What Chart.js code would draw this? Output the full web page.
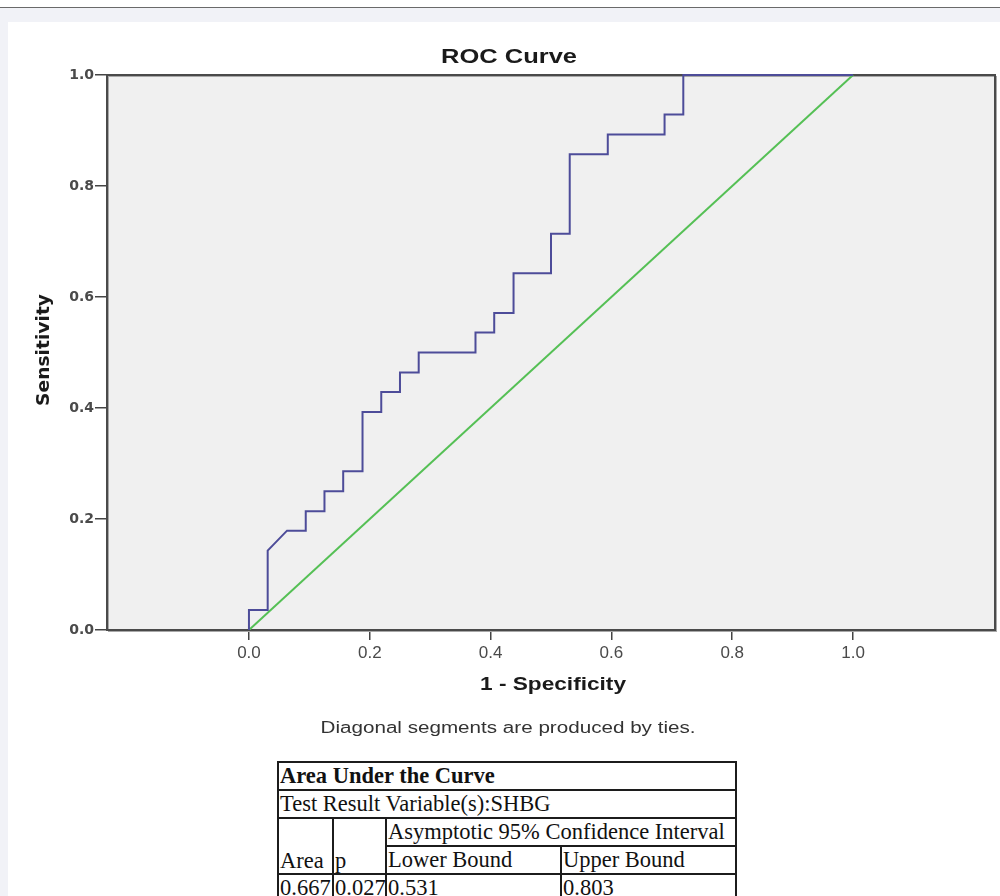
<!DOCTYPE html>
<html>
<head>
<meta charset="utf-8">
<script src="https://cdn.jsdelivr.net/npm/chart.js@4.4.1/dist/chart.umd.min.js"></script>
<style>
  html, body { margin: 0; padding: 0; width: 1000px; height: 896px; overflow: hidden; background: #f1f2f7; }
  .topwhite { position: absolute; left: 0; top: 0; width: 1000px; height: 7px; background: #fff; }
  .topline { position: absolute; left: 0; top: 7px; width: 1000px; height: 1px; background: #6a6a6a; }
  .panel { position: absolute; left: 8px; top: 22px; width: 992px; height: 874px; background: #fff; }
  #roc { position: absolute; left: 8px; top: 22px; }
  table { position: absolute; left: 277px; top: 761px; width: 458px; table-layout: fixed;
          border-collapse: collapse; font-family: 'Liberation Serif', 'Times New Roman', serif;
          font-size: 22.5px; color: #111; }
  td { border: 2px solid #1c1c1c; padding: 0 1px; height: 26px; line-height: 26px; white-space: nowrap; overflow: hidden; }
  td.bot { vertical-align: bottom; line-height: 24px; }
</style>
</head>
<body>
<div class="topwhite"></div>
<div class="topline"></div>
<div class="panel"></div>
<canvas id="roc" width="992" height="730"></canvas>
<table id="auc">
  <colgroup><col style="width:55px"><col style="width:53px"><col style="width:175px"><col style="width:175px"></colgroup>
</table>
<script>
// ROC curve vertices (1 - specificity, sensitivity)
const fpr = [0, 0, 0.031, 0.031, 0.063, 0.094, 0.094, 0.125, 0.125, 0.156, 0.156, 0.188, 0.188,
             0.219, 0.219, 0.25, 0.25, 0.281, 0.281, 0.375, 0.375, 0.406, 0.406, 0.438, 0.438,
             0.5, 0.5, 0.531, 0.531, 0.594, 0.594, 0.688, 0.688, 0.719, 0.719, 1];
const tpr = [0, 0.036, 0.036, 0.143, 0.179, 0.179, 0.214, 0.214, 0.25, 0.25, 0.286, 0.286, 0.393,
             0.393, 0.429, 0.429, 0.464, 0.464, 0.5, 0.5, 0.536, 0.536, 0.571, 0.571, 0.643,
             0.643, 0.714, 0.714, 0.857, 0.857, 0.893, 0.893, 0.929, 0.929, 1, 1];
const refX = [0, 1];
const refY = [0, 1];
const xTicks = [0, 0.2, 0.4, 0.6, 0.8, 1.0];
const yTicks = [0, 0.2, 0.4, 0.6, 0.8, 1.0];

const aucTitle = 'Area Under the Curve';
const aucVariable = 'Test Result Variable(s):SHBG';
const aucHeaders = ['Area', 'p', 'Asymptotic 95% Confidence Interval', 'Lower Bound', 'Upper Bound'];
const aucValues = ['0.667', '0.027', '0.531', '0.803'];

// text that is stretched to the width it has in the picture
function fitText(ctx, text, cx, cy, font, w, rot) {
    ctx.save();
    ctx.font = font;
    ctx.translate(cx, cy);
    if (rot) ctx.rotate(rot);
    const m = ctx.measureText(text).width;
    ctx.scale(w / m, 1);
    ctx.textAlign = 'center';
    ctx.textBaseline = 'middle';
    ctx.fillText(text, 0, 0);
    ctx.restore();
}

const frame = {
    id: 'frame',
    beforeDraw: (chart) => {
        const { ctx, chartArea: a } = chart;
        ctx.save();
        ctx.fillStyle = '#f0f0f0';
        ctx.fillRect(a.left, a.top, a.right - a.left, a.bottom - a.top);
        ctx.restore();
    },
    beforeDatasetsDraw: (chart) => {
        const { ctx, chartArea: a } = chart;
        ctx.save();
        ctx.strokeStyle = '#a8a8a8';
        ctx.lineWidth = 1;
        ctx.strokeRect(a.left + 1.5, a.top + 1.5, a.right - a.left, a.bottom - a.top);
        ctx.strokeStyle = '#4a4a4a';
        ctx.lineWidth = 2;
        ctx.strokeRect(a.left, a.top, a.right - a.left, a.bottom - a.top);
        ctx.restore();
    },
    afterDraw: (chart) => {
        const { ctx } = chart;
        ctx.save();
        ctx.fillStyle = '#1a1a1a';
        fitText(ctx, 'ROC Curve', 501, 35, 'bold 20px "Liberation Sans"', 136);
        fitText(ctx, '1 - Specificity', 545, 663, 'bold 19px "Liberation Sans"', 146);
        fitText(ctx, 'Sensitivity', 37, 328, 'bold 17px "DejaVu Sans"', 112, -Math.PI / 2);
        ctx.fillStyle = '#333';
        fitText(ctx, 'Diagonal segments are produced by ties.', 500, 707, '16px "Liberation Sans"', 375);
        ctx.restore();
    }
};

new Chart(document.getElementById('roc').getContext('2d'), {
    type: 'line',
    data: {
        datasets: [
            {
                data: fpr.map((x, i) => ({ x: x, y: tpr[i] })),
                borderColor: '#4d4c99',
                borderWidth: 2,
                pointRadius: 0,
                tension: 0,
                borderJoinStyle: 'miter',
                clip: 3
            },
            {
                data: refX.map((x, i) => ({ x: x, y: refY[i] })),
                borderColor: '#55c055',
                borderWidth: 2,
                pointRadius: 0,
                tension: 0
            }
        ]
    },
    options: {
        responsive: false,
        animation: false,
        layout: { padding: { top: 53, right: 5, left: 0, bottom: 0 } },
        plugins: { legend: { display: false }, tooltip: { enabled: false }, title: { display: false } },
        scales: {
            x: {
                type: 'linear', min: -0.235, max: 1.235,
                afterBuildTicks: s => { s.ticks = xTicks.map(v => ({ value: v })); },
                afterFit: s => { s.height = 122; },
                ticks: { callback: v => v.toFixed(1), color: '#4a4a4a', font: { family: 'Liberation Sans', size: 17 },
                         padding: 3, maxRotation: 0, autoSkip: false },
                grid: { drawOnChartArea: false, drawTicks: true, tickLength: 10, color: '#444', lineWidth: 1.5 },
                border: { display: false }
            },
            y: {
                type: 'linear', min: 0, max: 1,
                afterBuildTicks: s => { s.ticks = yTicks.map(v => ({ value: v })); },
                afterFit: s => { s.width = 99; },
                ticks: { callback: v => v.toFixed(1), color: '#4a4a4a', font: { family: 'DejaVu Sans', size: 14, weight: 'bold' },
                         padding: 1, autoSkip: false },
                grid: { drawOnChartArea: false, drawTicks: true, tickLength: 12, color: '#444', lineWidth: 1.5 },
                border: { display: false }
            }
        }
    },
    plugins: [frame]
});

// AUC table
const tb = document.getElementById('auc');
let html = `<tr><td colspan="4"><b>${aucTitle}</b></td></tr>`;
html += `<tr><td colspan="4">${aucVariable}</td></tr>`;
html += `<tr><td rowspan="2" class="bot">${aucHeaders[0]}</td><td rowspan="2" class="bot">${aucHeaders[1]}</td><td colspan="2">${aucHeaders[2]}</td></tr>`;
html += `<tr><td>${aucHeaders[3]}</td><td>${aucHeaders[4]}</td></tr>`;
html += '<tr>' + aucValues.map(v => `<td>${v}</td>`).join('') + '</tr>';
tb.insertAdjacentHTML('beforeend', html);
</script>
</body>
</html>
